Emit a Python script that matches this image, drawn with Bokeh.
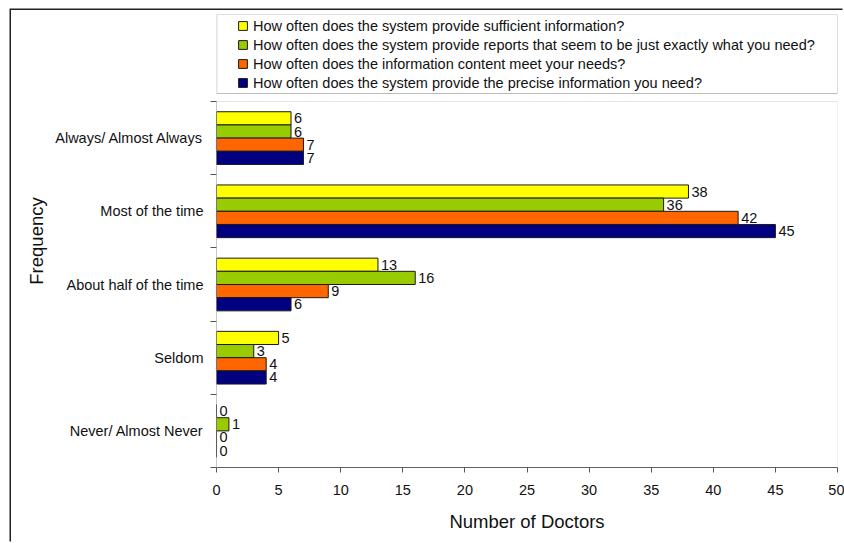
from bokeh.plotting import figure
from bokeh.models import (Range1d, FixedTicker, ColumnDataSource, Legend, LegendItem,
                          BoxAnnotation)
from bokeh.transform import dodge
from bokeh.core.properties import value
from bokeh.embed import file_html
from bokeh.resources import INLINE

# ---------------- data ----------------
categories = ["Always/ Almost Always", "Most of the time", "About half of the time",
              "Seldom", "Never/ Almost Never"]
series_names = [
    "How often does the system provide sufficient information?",
    "How often does the system provide reports that seem to be just exactly what you need?",
    "How often does the information content meet your needs?",
    "How often does the system provide the precise information you need?",
]
sufficient = [6, 38, 13, 5, 0]
reports = [6, 36, 16, 3, 1]
content = [7, 42, 9, 4, 0]
precise = [7, 45, 6, 4, 0]
colors = ["#FFFF00", "#99CC00", "#FF6600", "#000080"]
x_ticks = [0, 5, 10, 15, 20, 25, 30, 35, 40, 45, 50]

FONT = "Liberation Sans"
AXIS_COLOR = "#555555"
TEXT_COLOR = "#111111"

# ---------------- layout constants (pixels) ----------------
CANVAS_W, CANVAS_H = 833, 533
FRAME_H = 453            # frame covers legend area + bar area
BAR_AREA_H = 366         # height of the category area
GAP_ABOVE = FRAME_H - BAR_AREA_H
n_cat = len(categories)
px_per_cat = BAR_AREA_H / n_cat
y_bottom = n_cat - 0.5
y_top = -0.5 - GAP_ABOVE / px_per_cat

cat_pos = list(range(n_cat))
series_values = [sufficient, reports, content, precise]
keys = ["s0", "s1", "s2", "s3"]

data = {"y": cat_pos}
for k, vals in zip(keys, series_values):
    data[k] = vals
    data[k + "_lbl"] = [str(v) for v in vals]
source = ColumnDataSource(data)

p = figure(width=CANVAS_W, height=CANVAS_H,
           x_range=Range1d(0, 50), y_range=Range1d(y_bottom, y_top),
           output_backend="svg", toolbar_location=None,
           min_border_left=205, min_border_right=7,
           min_border_top=4, min_border_bottom=76)
p.margin = (10, 0, 0, 11)
p.styles = {"box-shadow": "-1.5px -1.5px 0px 0px #222222"}
p.background_fill_color = "white"
p.border_fill_color = "white"
p.xgrid.visible = False
p.ygrid.visible = False
p.outline_line_color = None

# plot-area border (light grey) and the y axis line
plot_area = BoxAnnotation(left=0, right=50, top=-0.5, bottom=y_bottom,
                          fill_alpha=0, line_color="#a8a8a8", line_width=1)
p.add_layout(plot_area)
y_axis_line = BoxAnnotation(left=0, right=0, top=-0.5, bottom=y_bottom,
                            fill_alpha=0, line_color=AXIS_COLOR, line_width=1)
p.add_layout(y_axis_line)

# legend box
legend_box = BoxAnnotation(left=0.02, right=50, top=y_top, bottom=-0.5 - 8 / px_per_cat,
                           fill_color="white", fill_alpha=1,
                           line_color="#222222", line_width=1)
p.add_layout(legend_box)

offsets = [-0.27, -0.09, 0.09, 0.27]
renderers = []
for k, color, off in zip(keys, colors, offsets):
    r = p.hbar(y=dodge("y", off), left=0, right=k, height=0.18, source=source,
               fill_color=color, line_color="#1a1a1a", line_width=1)
    renderers.append(r)
    p.text(x=k, y=dodge("y", off), text=k + "_lbl", source=source,
           x_offset=3, text_baseline="middle", text_align="left",
           text_font=value(FONT), text_font_size=value("14.5px"),
           text_color=TEXT_COLOR)

# x axis
xa = p.xaxis[0]
xa.ticker = FixedTicker(ticks=x_ticks)
xa.axis_label = "Number of Doctors"
xa.axis_label_text_font = FONT
xa.axis_label_text_font_size = "18.5px"
xa.axis_label_text_font_style = "normal"
xa.axis_label_text_color = TEXT_COLOR
xa.axis_label_standoff = 13
xa.major_label_text_font = FONT
xa.major_label_text_font_size = "14.5px"
xa.major_label_text_color = TEXT_COLOR
xa.major_label_standoff = 12
xa.major_tick_out = 5
xa.major_tick_in = 0
xa.minor_tick_line_color = None
xa.axis_line_color = AXIS_COLOR
xa.major_tick_line_color = AXIS_COLOR

# y axis
ya = p.yaxis[0]
ya.ticker = FixedTicker(ticks=cat_pos, minor_ticks=[i - 0.5 for i in range(n_cat + 1)])
ya.major_label_overrides = {i: c for i, c in enumerate(categories)}
ya.major_tick_line_color = None
ya.major_tick_out = 6
ya.minor_tick_line_color = AXIS_COLOR
ya.minor_tick_out = 6
ya.minor_tick_in = 0
ya.axis_line_color = None
ya.major_label_text_font = FONT
ya.major_label_text_font_size = "14.5px"
ya.major_label_text_color = TEXT_COLOR
ya.major_label_standoff = 7
ya.axis_label = "Frequency"
ya.axis_label_text_font = FONT
ya.axis_label_text_font_size = "18.5px"
ya.axis_label_text_font_style = "normal"
ya.axis_label_text_color = TEXT_COLOR
ya.axis_label_standoff = 5

legend = Legend(items=[LegendItem(label=n, renderers=[r]) for n, r in zip(series_names, renderers)],
                location=(21, 376), padding=0, margin=0,
                border_line_color=None, background_fill_alpha=0,
                label_text_font=FONT, label_text_font_size="14.5px",
                label_text_color=TEXT_COLOR,
                glyph_width=11, glyph_height=11, label_height=17, spacing=2,
                label_standoff=5)
p.add_layout(legend, "center")

open("out.html", "w").write(file_html(p, INLINE))
